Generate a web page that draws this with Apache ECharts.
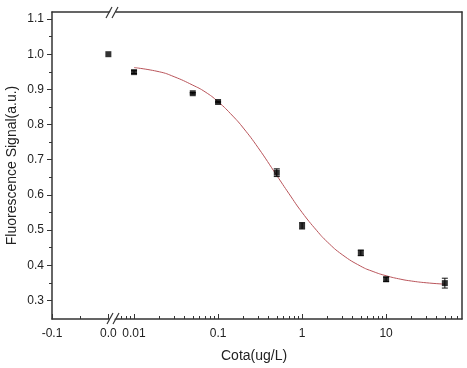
<!DOCTYPE html>
<html>
<head>
<meta charset="utf-8">
<script src="https://cdn.jsdelivr.net/npm/echarts@6/dist/echarts.min.js"></script>
<style>
  html, body { margin: 0; padding: 0; background: #fff; }
  #chart { width: 467px; height: 368px; }
</style>
</head>
<body>
<div id="chart"></div>
<script>
  var chart = echarts.init(document.getElementById('chart'));

  // blank sample (0.0), drawn on the linear piece of the axis
  var blankX = [0.0];
  var blankY = [1.0];

  // measured points on the log piece
  var cota = [0.01, 0.05, 0.1, 0.5, 1, 5, 10, 50];
  var signal = [0.949, 0.889, 0.864, 0.663, 0.512, 0.435, 0.360, 0.349];
  var err = [0.004, 0.002, 0.002, 0.011, 0.009, 0.008, 0.006, 0.014];

  // fitted curve
  var fitX = [0.01, 0.02, 0.03, 0.05, 0.07, 0.1, 0.15, 0.2, 0.3, 0.5, 0.7, 1, 1.5, 2, 3, 5, 7, 10, 15, 20, 30, 50];
  var fitY = [0.962, 0.950, 0.936, 0.912, 0.893, 0.865, 0.824, 0.790, 0.734, 0.655, 0.603, 0.550, 0.498, 0.466, 0.430, 0.397, 0.382, 0.370, 0.360, 0.355, 0.350, 0.346];

  // tick labels
  var yMajor = [0.3, 0.4, 0.5, 0.6, 0.7, 0.8, 0.9, 1.0, 1.1];
  var yMinor = [0.35, 0.45, 0.55, 0.65, 0.75, 0.85, 0.95, 1.05];
  var linMajor = [-0.1, 0.0];
  var linMinor = [-0.05];
  var logMajor = [0.01, 0.1, 1, 10];
  var logMinor = [0.007, 0.008, 0.009,
    0.02, 0.03, 0.04, 0.05, 0.06, 0.07, 0.08, 0.09,
    0.2, 0.3, 0.4, 0.5, 0.6, 0.7, 0.8, 0.9,
    2, 3, 4, 5, 6, 7, 8, 9,
    20, 30, 40, 50, 60, 70];

  var font = 'Liberation Sans, Arial, sans-serif';
  var lineCol = '#333';
  var Y_MIN = 0.247, Y_MAX = 1.12;

  function pairs(xs, ys) {
    var out = [];
    for (var i = 0; i < xs.length; i++) out.push([xs[i], ys[i]]);
    return out;
  }

  var errData = [];
  for (var i = 0; i < cota.length; i++) {
    errData.push([cota[i], signal[i] - err[i], signal[i] + err[i]]);
  }

  function axLine() { return { onZero: false, lineStyle: { color: lineCol, width: 1.5 } }; }
  function noLine() { return { show: false, onZero: false }; }

  var option = {
    animation: false,
    textStyle: { fontFamily: font },
    grid: [
      { left: 52, top: 12, width: 62, height: 307 },
      { left: 116, top: 12, width: 346, height: 307 }
    ],
    xAxis: [
      // linear piece, labels + major ticks
      { gridIndex: 0, type: 'value', min: -0.1, max: 0.01, position: 'bottom',
        splitLine: { show: false }, axisLine: axLine(),
        axisTick: { inside: true, length: 5, customValues: linMajor, lineStyle: { color: lineCol } },
        axisLabel: { customValues: linMajor, margin: 9, color: '#222', fontSize: 12, fontFamily: font,
          formatter: function (v) { return v.toFixed(1); } } },
      // linear piece, minor ticks
      { gridIndex: 0, type: 'value', min: -0.1, max: 0.01, position: 'bottom',
        splitLine: { show: false }, axisLine: noLine(), axisLabel: { show: false },
        axisTick: { inside: true, length: 3, customValues: linMinor, lineStyle: { color: lineCol } } },
      // linear piece, top line
      { gridIndex: 0, type: 'value', min: -0.1, max: 0.01, position: 'top',
        splitLine: { show: false }, axisTick: { show: false }, axisLabel: { show: false },
        axisLine: axLine() },
      // log piece, labels + major ticks
      { gridIndex: 1, type: 'log', logBase: 10, min: 0.0061, max: 80, position: 'bottom',
        splitLine: { show: false }, axisLine: axLine(),
        axisTick: { inside: true, length: 5, customValues: logMajor, lineStyle: { color: lineCol } },
        axisLabel: { customValues: logMajor, margin: 9, color: '#222', fontSize: 12, fontFamily: font,
          formatter: function (v) { return String(v); } } },
      // log piece, minor ticks
      { gridIndex: 1, type: 'log', logBase: 10, min: 0.0061, max: 80, position: 'bottom',
        splitLine: { show: false }, axisLine: noLine(), axisLabel: { show: false },
        axisTick: { inside: true, length: 3, customValues: logMinor, lineStyle: { color: lineCol } } },
      // log piece, top line
      { gridIndex: 1, type: 'log', logBase: 10, min: 0.0061, max: 80, position: 'top',
        splitLine: { show: false }, axisTick: { show: false }, axisLabel: { show: false },
        axisLine: axLine() }
    ],
    yAxis: [
      { gridIndex: 0, type: 'value', min: Y_MIN, max: Y_MAX, position: 'left',
        name: 'Fluorescence Signal(a.u.)', nameLocation: 'middle', nameGap: 33,
        nameTextStyle: { fontSize: 14, color: '#222', fontFamily: font },
        splitLine: { show: false }, axisLine: axLine(),
        axisTick: { length: 5, customValues: yMajor, lineStyle: { color: lineCol } },
        axisLabel: { customValues: yMajor, margin: 8, color: '#222', fontSize: 12, fontFamily: font,
          formatter: function (v) { return v.toFixed(1); } } },
      { gridIndex: 0, type: 'value', min: Y_MIN, max: Y_MAX, position: 'left',
        splitLine: { show: false }, axisLine: noLine(), axisLabel: { show: false },
        axisTick: { length: 3, customValues: yMinor, lineStyle: { color: lineCol } } },
      { gridIndex: 1, type: 'value', min: Y_MIN, max: Y_MAX, position: 'right',
        splitLine: { show: false }, axisTick: { show: false }, axisLabel: { show: false },
        axisLine: axLine() }
    ],
    series: [
      { type: 'line', xAxisIndex: 3, yAxisIndex: 2, data: pairs(fitX, fitY),
        smooth: true, showSymbol: false, lineStyle: { color: '#b9545a', width: 1 }, z: 2 },
      { type: 'custom', xAxisIndex: 3, yAxisIndex: 2, data: errData, z: 3,
        renderItem: function (params, api) {
          var lo = api.coord([api.value(0), api.value(1)]);
          var hi = api.coord([api.value(0), api.value(2)]);
          var w = 3;
          var st = { stroke: '#111', lineWidth: 1 };
          return { type: 'group', children: [
            { type: 'line', shape: { x1: lo[0], y1: lo[1], x2: hi[0], y2: hi[1] }, style: st },
            { type: 'line', shape: { x1: lo[0] - w, y1: lo[1], x2: lo[0] + w, y2: lo[1] }, style: st },
            { type: 'line', shape: { x1: hi[0] - w, y1: hi[1], x2: hi[0] + w, y2: hi[1] }, style: st }
          ] };
        } },
      { type: 'scatter', xAxisIndex: 3, yAxisIndex: 2, data: pairs(cota, signal),
        symbol: 'rect', symbolSize: 6, itemStyle: { color: '#000' }, z: 4 },
      { type: 'scatter', xAxisIndex: 0, yAxisIndex: 0, data: pairs(blankX, blankY),
        symbol: 'rect', symbolSize: 6, itemStyle: { color: '#000' }, z: 4 }
    ],
    graphic: [
      // axis breaks
      { type: 'polygon', shape: { points: [[107, 323], [113, 313], [118, 313], [112, 323]] },
        style: { fill: '#fff', stroke: null }, z: 100 },
      { type: 'line', shape: { x1: 107, y1: 324, x2: 113, y2: 313 }, style: { stroke: lineCol, lineWidth: 1.2 }, z: 101 },
      { type: 'line', shape: { x1: 113, y1: 324, x2: 119, y2: 313 }, style: { stroke: lineCol, lineWidth: 1.2 }, z: 101 },
      { type: 'polygon', shape: { points: [[107, 17], [113, 7], [118, 7], [112, 17]] },
        style: { fill: '#fff', stroke: null }, z: 100 },
      { type: 'line', shape: { x1: 106, y1: 18, x2: 112, y2: 7 }, style: { stroke: lineCol, lineWidth: 1.2 }, z: 101 },
      { type: 'line', shape: { x1: 112, y1: 18, x2: 118, y2: 7 }, style: { stroke: lineCol, lineWidth: 1.2 }, z: 101 },
      { type: 'text', left: 221, top: 349,
        style: { text: 'Cota(ug/L)', font: '14px ' + font, fill: '#222' } }
    ]
  };

  chart.setOption(option);
</script>
</body>
</html>
